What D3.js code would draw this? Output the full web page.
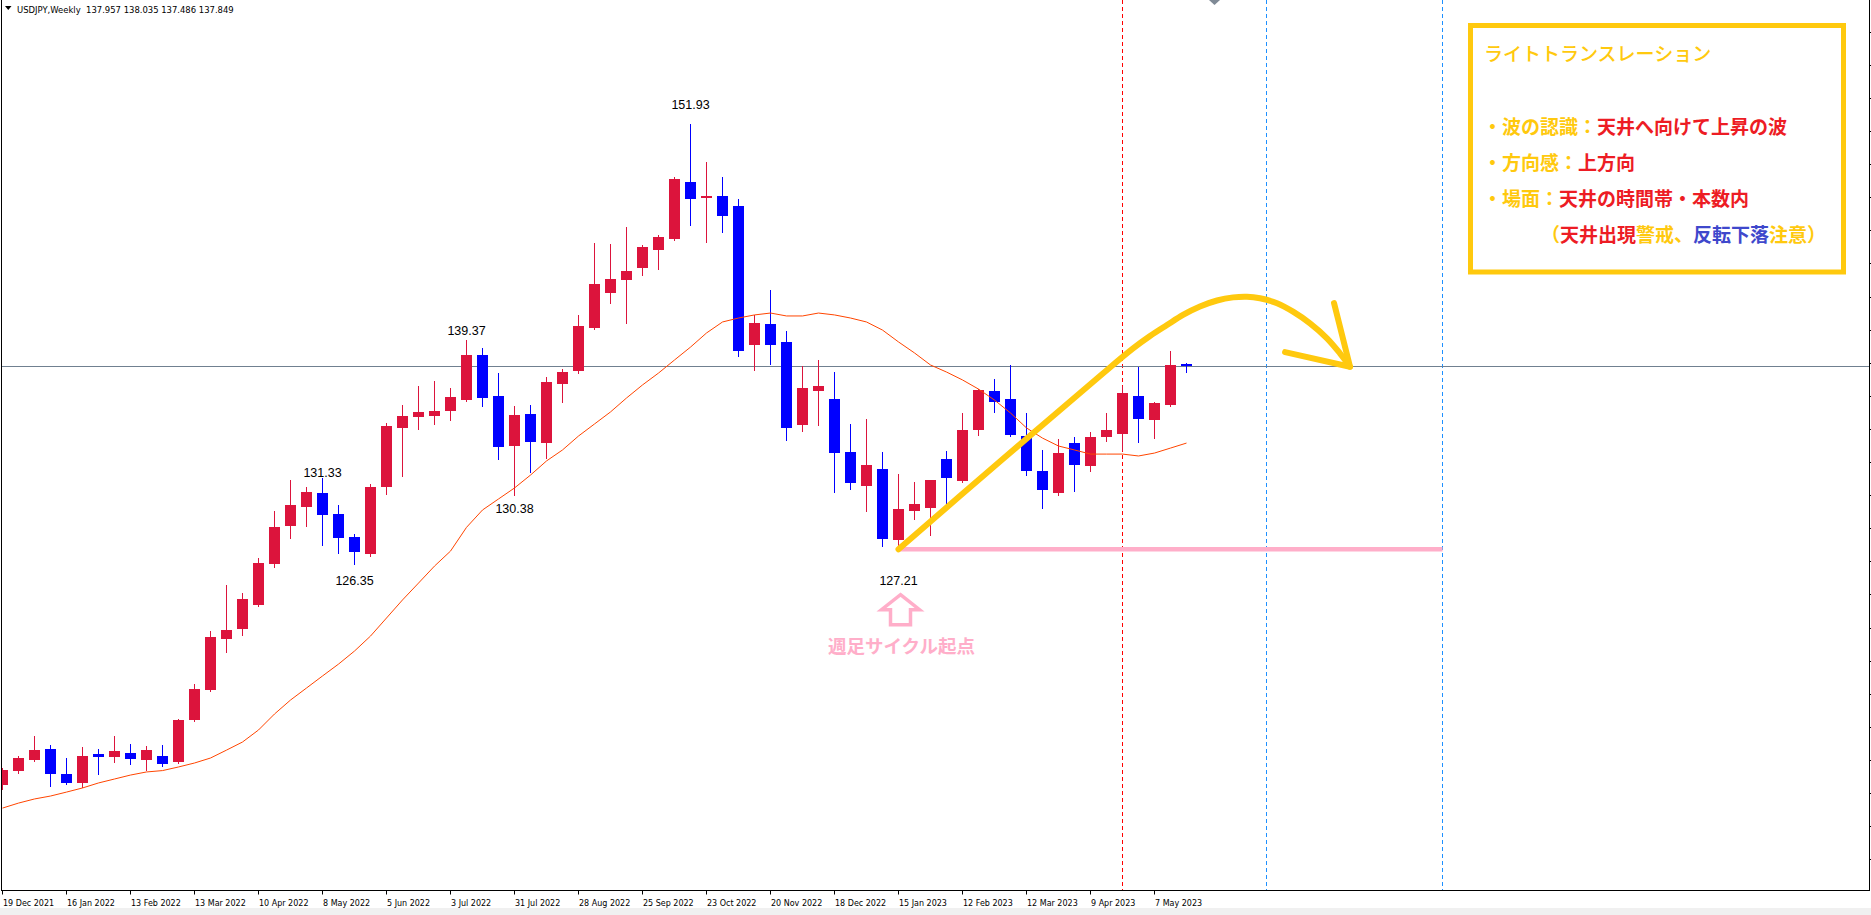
<!DOCTYPE html>
<html><head><meta charset="utf-8">
<script src="https://cdn.jsdelivr.net/npm/d3@7"></script>
<style>
html,body{margin:0;padding:0;background:#fff;}
svg{display:block;}
</style></head><body>
<svg id="chart" width="1871" height="915"></svg>
<script>
// ---------------- DATA ----------------
const weeks = ["2021-12-19","2021-12-26","2022-01-02","2022-01-09","2022-01-16","2022-01-23","2022-01-30","2022-02-06","2022-02-13","2022-02-20",
"2022-02-27","2022-03-06","2022-03-13","2022-03-20","2022-03-27","2022-04-03","2022-04-10","2022-04-17","2022-04-24","2022-05-01",
"2022-05-08","2022-05-15","2022-05-22","2022-05-29","2022-06-05","2022-06-12","2022-06-19","2022-06-26","2022-07-03","2022-07-10",
"2022-07-17","2022-07-24","2022-07-31","2022-08-07","2022-08-14","2022-08-21","2022-08-28","2022-09-04","2022-09-11","2022-09-18",
"2022-09-25","2022-10-02","2022-10-09","2022-10-16","2022-10-23","2022-10-30","2022-11-06","2022-11-13","2022-11-20","2022-11-27",
"2022-12-04","2022-12-11","2022-12-18","2022-12-25","2023-01-01","2023-01-08","2023-01-15","2023-01-22","2023-01-29","2023-02-05",
"2023-02-12","2023-02-19","2023-02-26","2023-03-05","2023-03-12","2023-03-19","2023-03-26","2023-04-02","2023-04-09","2023-04-16",
"2023-04-23","2023-04-30","2023-05-07","2023-05-14","2023-05-21"];

const openP = [113.50,114.30,114.95,115.59,114.14,113.63,115.30,115.14,115.36,114.95,
115.19,114.84,117.28,119.02,121.99,122.57,123.96,126.35,128.56,129.66,
130.48,129.26,127.92,126.93,130.83,134.26,134.90,134.98,135.24,135.88,
138.50,136.11,133.21,135.07,133.38,136.81,137.57,140.07,142.10,142.86,
143.56,144.60,145.24,148.56,147.63,147.74,147.16,139.08,140.30,139.26,
134.43,136.41,135.94,132.86,130.88,131.87,127.74,129.43,129.60,132.45,
131.17,134.14,136.41,135.94,133.79,131.76,130.48,133.38,132.05,133.73,
133.91,136.11,134.72,135.59,137.957];
const highP = [114.49,115.19,116.35,115.83,115.07,115.71,115.59,116.35,115.88,115.77,
115.83,117.36,119.37,122.45,125.13,124.66,126.70,129.43,131.23,130.83,
131.33,129.78,128.09,131.00,134.55,135.59,136.70,136.99,136.58,139.37,
138.91,137.45,135.53,135.59,137.22,137.69,140.83,145.01,144.95,145.94,
144.90,145.48,148.85,151.93,149.72,148.85,147.57,140.83,142.28,139.90,
137.86,138.21,137.51,134.49,134.78,132.86,131.58,131.12,131.23,132.92,
135.13,136.55,137.10,137.92,135.13,132.97,133.62,133.73,134.02,135.13,
136.70,137.80,135.77,138.73,138.035];
const lowP = [113.26,114.22,114.90,113.46,113.56,113.40,114.15,114.84,114.72,114.37,
114.60,114.78,117.22,118.98,121.23,122.22,123.90,126.17,127.87,128.56,
127.45,126.99,126.35,126.81,130.40,131.47,134.20,134.49,134.72,135.85,
135.53,132.45,130.38,131.70,132.51,135.77,137.45,140.01,141.52,140.36,
143.15,143.50,145.18,146.06,145.07,145.65,138.44,137.63,137.98,133.56,
134.08,134.43,130.53,130.71,129.43,127.40,127.21,128.97,128.04,129.84,
131.10,133.85,135.19,133.80,131.52,129.60,130.36,130.59,131.76,133.50,
132.97,133.44,133.67,135.53,137.486];
const closeP = [114.37,115.10,115.53,114.16,113.63,115.19,115.14,115.48,115.01,115.53,
114.72,117.30,119.08,122.10,122.51,124.31,126.41,128.50,129.78,130.53,
129.20,127.86,127.05,130.83,134.37,134.95,135.19,135.24,136.06,138.50,
136.00,133.15,135.01,133.44,136.93,137.51,140.19,142.63,142.92,143.38,
144.78,145.36,148.73,147.57,147.74,146.58,138.73,140.36,139.08,134.26,
136.58,136.70,132.80,131.06,132.10,127.80,129.55,129.84,131.23,131.35,
134.14,136.47,135.77,133.85,131.76,130.65,132.80,132.10,133.73,134.14,
136.29,134.78,135.71,137.92,137.849];

// moving average
const maP = [112.16,112.45,112.69,112.86,113.09,113.33,113.62,113.85,114.08,114.26,
114.34,114.55,114.78,115.07,115.53,116.00,116.70,117.63,118.44,119.14,
119.84,120.53,121.29,122.16,123.21,124.26,125.24,126.23,127.10,128.48,
129.49,130.13,130.77,131.52,132.34,132.98,133.79,134.49,135.19,136.00,
136.76,137.45,138.21,138.96,139.78,140.42,140.65,140.83,140.94,140.77,
140.77,140.94,140.83,140.65,140.42,139.95,139.26,138.62,137.92,137.51,
137.05,136.52,135.88,135.13,134.26,133.67,133.21,132.98,132.74,132.74,
132.74,132.63,132.80,133.09,133.38];

const tickIndex = [0,4,8,12,16,20,24,28,32,36,40,44,48,52,56,60,64,68,72];
const tickLabels = ["19 Dec 2021","16 Jan 2022","13 Feb 2022","13 Mar 2022","10 Apr 2022","8 May 2022","5 Jun 2022","3 Jul 2022","31 Jul 2022","28 Aug 2022",
"25 Sep 2022","23 Oct 2022","20 Nov 2022","18 Dec 2022","15 Jan 2023","12 Feb 2023","12 Mar 2023","9 Apr 2023","7 May 2023"];
const priceTicks = [157.30,155.38,153.45,151.53,149.60,147.68,145.75,143.83,141.90,139.98,138.05,136.13,134.20,132.28,130.35,128.43,126.50,124.58,122.65,120.73,118.80,116.88,114.95,113.03,111.10,109.18];

const markIndex = [43,29,20,22,32,56];
const markValue = [151.93,139.37,131.33,126.35,130.38,127.21];
const markDy = [-15.5,-5,-1.5,21,18.5,36];

const headerText = "USDJPY,Weekly  137.957 138.035 137.486 137.849";
const lastPrice = 137.849;
const redVLines = [70];
const blueVLines = [79,90];
const cycleIndex = 56, cycleEndIndex = 90, cyclePrice = 127.21;
const waveIdx = [56,62.34,68.59,70.66,71.72,72.78,73.78,74.84,75.91,76.91,77.78,78.59,79.66,80.66,81.72,82.78,83.59,84.22];
const wavePrice = [127.21,132.31,137.28,138.88,139.60,140.24,140.83,141.32,141.67,141.85,141.89,141.80,141.51,141.02,140.34,139.47,138.60,137.82];
const arrowIdx = [83.22,84.22,80.16];
const arrowPrice = [141.52,137.82,138.67];

const boxTitle = "ライトトランスレーション";
const boxLines = [
  [["・波の認識：","g"],["天井へ向けて上昇の波","r"]],
  [["・方向感：","g"],["上方向","r"]],
  [["・場面：","g"],["天井の時間帯・本数内","r"]],
  [["（","g"],["天井出現","r"],["警戒、","g"],["反転下落","b"],["注意）","g"]]
];
const cycleText = "週足サイクル起点";

// ---------------- DRAW ----------------
const W = 1871, H = 915;
const RED = "#DC143C", BLUE = "#0000FF", MA = "#FF4500";
const GOLD = "#FFC90E", PRED = "#ED1C24", PBLUE = "#3F48CC", PINK = "#FFAEC9";
const UIFONT = "'DejaVu Sans', Verdana, sans-serif";
const svg = d3.select("#chart");
const left = 2, right = 1869.5, bottom = 890.5;

const x = d3.scaleLinear().domain([0, 74]).range([2.5, 1186.5]);
const y = d3.scaleLinear().domain([151.93, 126.35]).range([124, 564]);

svg.append("rect").attr("x",0).attr("y",0).attr("width",W).attr("height",H).attr("fill","#fff");
svg.append("rect").attr("x",0).attr("y",908).attr("width",W).attr("height",7).attr("fill","#f0f0f0");

svg.append("defs").append("clipPath").attr("id","plot")
  .append("rect").attr("x",left).attr("y",0).attr("width",right-left).attr("height",bottom);
const g = svg.append("g").attr("clip-path","url(#plot)");

// vertical dotted lines
g.selectAll("line.vr").data(redVLines).join("line")
  .attr("x1",d=>x(d)).attr("x2",d=>x(d)).attr("y1",0).attr("y2",bottom)
  .attr("stroke","#FF0000").attr("stroke-width",1).attr("stroke-dasharray","4,3");
g.selectAll("line.vb").data(blueVLines).join("line")
  .attr("x1",d=>x(d)).attr("x2",d=>x(d)).attr("y1",0).attr("y2",bottom)
  .attr("stroke","#1E90FF").attr("stroke-width",1).attr("stroke-dasharray","4,3");

// last price line
const yl = Math.round(y(lastPrice)) + 0.5;
g.append("line").attr("x1",left).attr("x2",right).attr("y1",yl).attr("y2",yl)
  .attr("stroke","#708090").attr("stroke-width",1);

// candles
const bars = weeks.map((w,i)=>({i, o:openP[i], h:highP[i], l:lowP[i], c:closeP[i]}));
const col = d => d.c >= d.o ? RED : BLUE;
g.selectAll("line.wick").data(bars).join("line")
  .attr("x1",d=>x(d.i)).attr("x2",d=>x(d.i))
  .attr("y1",d=>Math.round(y(d.h))).attr("y2",d=>Math.round(y(d.l))+1)
  .attr("stroke",col).attr("stroke-width",1);
g.selectAll("rect.body").data(bars).join("rect")
  .attr("x",d=>x(d.i)-5.5).attr("width",11)
  .attr("y",d=>Math.round(y(Math.max(d.o,d.c))))
  .attr("height",d=>Math.max(1, Math.round(y(Math.min(d.o,d.c))) - Math.round(y(Math.max(d.o,d.c)))))
  .attr("fill",col);

// moving average
g.append("path").datum(maP)
  .attr("d", d3.line().x((d,i)=>x(i)).y(d=>y(d)))
  .attr("fill","none").attr("stroke",MA).attr("stroke-width",1);

// pink cycle line
g.append("line").attr("x1",x(cycleIndex)-1).attr("x2",x(cycleEndIndex))
  .attr("y1",y(cyclePrice)).attr("y2",y(cyclePrice))
  .attr("stroke",PINK).attr("stroke-width",4.5);

// yellow wave
g.append("path").datum(waveIdx.map((d,i)=>[d, wavePrice[i]]))
  .attr("d", d3.line().x(d=>x(d[0])).y(d=>y(d[1])).curve(d3.curveCatmullRom))
  .attr("fill","none").attr("stroke",GOLD).attr("stroke-width",6).attr("stroke-linecap","round").attr("stroke-linejoin","round");
g.append("path").datum(arrowIdx.map((d,i)=>[d, arrowPrice[i]]))
  .attr("d", d3.line().x(d=>x(d[0])).y(d=>y(d[1])))
  .attr("fill","none").attr("stroke",GOLD).attr("stroke-width",6).attr("stroke-linecap","round").attr("stroke-linejoin","round");

// hi/lo labels
svg.selectAll("text.mark").data(markIndex).join("text")
  .attr("x",(d)=>x(d)).attr("y",(d,i)=>y(markValue[i]) + markDy[i])
  .attr("text-anchor","middle").attr("font-family","'Liberation Sans', Arial, sans-serif")
  .attr("font-size",12.5).attr("fill","#000")
  .text((d,i)=>markValue[i].toFixed(2));

// pink hollow arrow + text
const ax = x(cycleIndex) + 2, ay = y(cyclePrice) + 45.5;
svg.append("path")
  .attr("d", `M${ax},${ay} L${ax+19},${ay+15} L${ax+10},${ay+15} L${ax+10},${ay+30} L${ax-10},${ay+30} L${ax-10},${ay+15} L${ax-19},${ay+15} Z`)
  .attr("fill","#fff").attr("stroke",PINK).attr("stroke-width",3.5).attr("stroke-linejoin","miter");
svg.append("text").attr("x", x(cycleIndex)+3).attr("y", y(cyclePrice)+96)
  .attr("text-anchor","middle").attr("dominant-baseline","central")
  .attr("font-family","'Noto Sans CJK JP', sans-serif").attr("font-weight",700)
  .attr("font-size",18.5).attr("fill",PINK).text(cycleText);

// frame and axes
svg.append("line").attr("x1",1.5).attr("x2",1.5).attr("y1",0).attr("y2",bottom).attr("stroke","#000");
svg.append("line").attr("x1",right).attr("x2",right).attr("y1",0).attr("y2",bottom+0.5).attr("stroke","#000");
svg.append("line").attr("x1",1).attr("x2",right+0.5).attr("y1",bottom).attr("y2",bottom).attr("stroke","#000");
svg.selectAll("line.xt").data(tickIndex).join("line")
  .attr("x1",d=>Math.floor(x(d))+0.5).attr("x2",d=>Math.floor(x(d))+0.5)
  .attr("y1",bottom).attr("y2",bottom+4).attr("stroke","#000");
svg.selectAll("text.xl").data(tickIndex).join("text")
  .attr("x",d=>Math.floor(x(d))+1).attr("y",906)
  .attr("font-family",UIFONT).attr("font-size",8).attr("fill","#000")
  .text((d,i)=>tickLabels[i]);
svg.selectAll("line.yt").data(priceTicks.filter(p=>y(p)>2 && y(p)<bottom)).join("line")
  .attr("x1",right).attr("x2",W).attr("y1",d=>Math.round(y(d))+0.5).attr("y2",d=>Math.round(y(d))+0.5)
  .attr("stroke","#000");

// chart shift marker
svg.append("path").attr("d","M1209,0 L1220,0 L1214.5,5 Z").attr("fill","#7f8a96");

// header
svg.append("path").attr("d","M5,6 L11.5,6 L8.25,10 Z").attr("fill","#000");
svg.append("text").attr("x",17).attr("y",12.5).style("white-space","pre")
  .attr("font-family",UIFONT).attr("font-size",8.45).attr("fill","#000")
  .text(headerText);

// annotation box
svg.append("rect").attr("x",1470.5).attr("y",25.5).attr("width",373).attr("height",246.5)
  .attr("fill","#fff").attr("stroke",GOLD).attr("stroke-width",5);
svg.append("text").attr("x",1484).attr("y",52.5).attr("dominant-baseline","central")
  .attr("font-family","'Noto Sans CJK JP', sans-serif").attr("font-size",19).attr("font-weight",500)
  .attr("fill",GOLD).text(boxTitle);
const colorMap = {g:GOLD, r:PRED, b:PBLUE};
const lineY = [125,161,197,233];
const lineX = [1483,1483,1483,1541];
boxLines.forEach((parts, li) => {
  const t = svg.append("text").attr("x",lineX[li]).attr("y",lineY[li]).attr("dominant-baseline","central")
    .attr("font-family","'Noto Sans CJK JP', sans-serif").attr("font-size",19).attr("font-weight",700);
  parts.forEach(p => t.append("tspan").attr("fill",colorMap[p[1]]).text(p[0]));
});
</script>
</body></html>
